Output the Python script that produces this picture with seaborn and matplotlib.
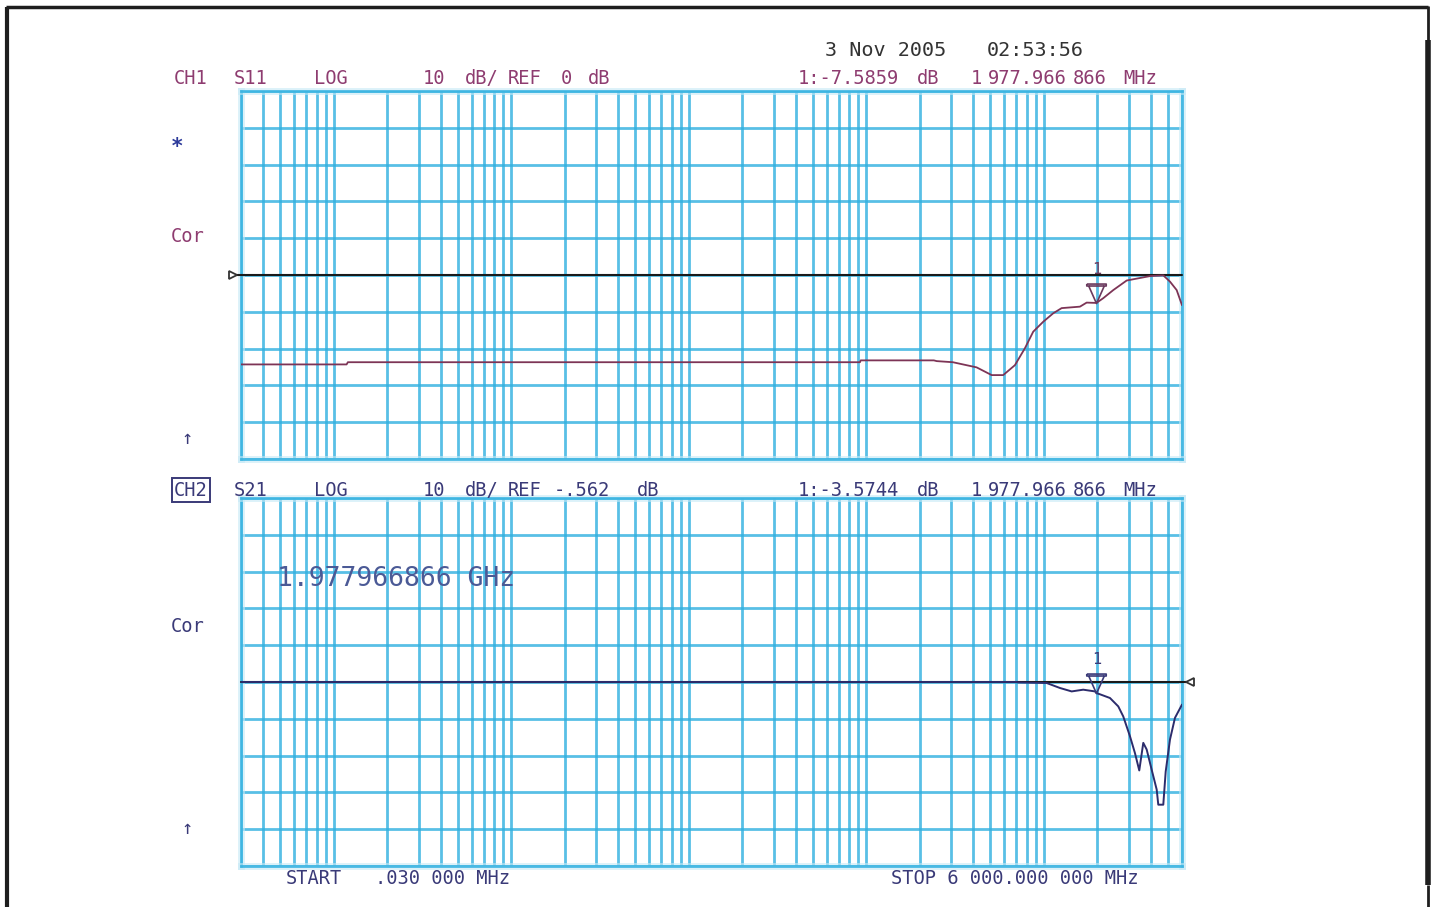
import numpy as np
import pandas as pd
import matplotlib
matplotlib.use("Agg")
import matplotlib.pyplot as plt
import matplotlib.ticker as mtick
import matplotlib.patheffects as pe
from matplotlib.lines import Line2D
from matplotlib.path import Path
import seaborn as sns

# ---------- data ----------
start_mhz = 0.03
stop_mhz = 6000.0
marker_mhz = 1977.966866

# CH1 S11 (dB), ref 0 dB, 10 dB/div
s11_freq = [0.03, 0.118, 0.12, 92, 93, 240, 249, 307, 418, 508, 590, 687, 782, 871, 992,
            1129, 1259, 1597, 1742, 1978, 2160, 2460, 2927, 3403, 3959, 4707, 5134, 5600, 6000]
s11_db = [-24.3, -24.3, -23.7, -23.7, -23.2, -23.2, -23.4, -23.7, -25.1, -27.2, -27.2, -24.5,
          -19.9, -15.4, -12.7, -10.4, -9.0, -8.6, -7.5, -7.59, -6.3, -4.1, -1.5, -0.9, -0.3,
          -0.1, -1.8, -4.1, -8.2]
s11_ref = 0.0
s11_marker_db = -7.5859

# CH2 S21 (dB), ref -0.562 dB, 10 dB/div
s21_freq = [0.03, 700, 717, 1036, 1232, 1434, 1666, 1940, 1978, 2070, 2357, 2625, 2800, 3055,
            3260, 3447, 3631, 3794, 4049, 4321, 4411, 4707, 4856, 5134, 5478, 6000]
s21_db = [-0.56, -0.56, -0.67, -0.83, -2.19, -3.12, -2.65, -3.12, -3.57, -3.9, -4.91, -7.19,
          -9.91, -15.3, -19.9, -24.6, -17.1, -18.9, -24.4, -29.8, -33.9, -33.9, -24.9, -16.2,
          -10.3, -6.7]
s21_ref = -0.562
s21_marker_db = -3.5744

s11 = pd.DataFrame({"freq": s11_freq, "db": s11_db})
s21 = pd.DataFrame({"freq": s21_freq, "db": s21_db})

# ---------- style ----------
sns.set_theme(style="white")
plt.rcParams["font.family"] = ["DejaVu Sans Mono", "DejaVu Sans"]

W, H = 1438, 907
fig = plt.figure(figsize=(W / 100, H / 100), dpi=100)
fig.patch.set_facecolor("white")

GRID = "#2fb0e0"
CH1_COL = "#8e3c70"
CH2_COL = "#3a3a78"
S11_COL = "#7d3456"
S21_COL = "#2c2c6c"


def px_axes(x0, y0, x1, y1):
    return fig.add_axes([x0 / W, 1 - y1 / H, (x1 - x0) / W, (y1 - y0) / H])


def ftext(px, py, s, **kw):
    kw.setdefault("va", "center")
    kw.setdefault("ha", "left")
    kw.setdefault("fontsize", 13.5)
    return fig.text(px / W, 1 - py / H, s, **kw)


glow = [pe.Stroke(linewidth=5.0, foreground="#c6e9f6", alpha=0.6), pe.Normal()]


def setup_grid(ax, ref):
    ax.set_xscale("log")
    ax.set_xlim(start_mhz, stop_mhz)
    ax.set_ylim(ref - 50, ref + 50)
    ax.set_yticks(ref + np.arange(-50, 51, 10))
    ax.xaxis.set_major_locator(mtick.LogLocator(base=10))
    ax.xaxis.set_minor_locator(mtick.LogLocator(base=10, subs=np.arange(2, 10)))
    ax.tick_params(which="both", length=0, labelbottom=False, labelleft=False)
    ax.grid(True, which="both", color=GRID, linewidth=2.0, alpha=0.8)
    for sp in ax.spines.values():
        sp.set_color(GRID)
        sp.set_alpha(0.85)
        sp.set_linewidth(2.0)
        sp.set_path_effects(glow)


# marker: bar on top, triangle pointing down, tip at the point
mk_path = Path([(-0.5, 1.0), (0.5, 1.0), (0.5, 0.9), (-0.5, 0.9), (-0.5, 1.0),
                (-0.4, 0.9), (0.0, 0.0), (0.4, 0.9)],
               [Path.MOVETO, Path.LINETO, Path.LINETO, Path.LINETO, Path.LINETO,
                Path.MOVETO, Path.LINETO, Path.LINETO])

# ---------- CH1 ----------
ax1 = px_axes(241, 91, 1182, 459)
setup_grid(ax1, s11_ref)
ax1.axhline(s11_ref, xmin=-0.01, xmax=1.0, color="#1a1a1a", lw=1.5, clip_on=False, zorder=3)
ax1.plot([-0.008], [s11_ref], transform=ax1.get_yaxis_transform(), marker=">",
         ms=6, mfc="white", mec="#333333", mew=1.3, clip_on=False, zorder=4)
sns.lineplot(data=s11, x="freq", y="db", ax=ax1, color=S11_COL, lw=1.3,
             estimator=None, sort=False, zorder=4)
ax1.plot([marker_mhz], [s11_marker_db], marker=mk_path, ms=28, mfc="none",
         mec="#6a3a5e", mew=1.2, zorder=5)
ax1.annotate("1", (marker_mhz, s11_marker_db), xytext=(0, 24), textcoords="offset points",
             ha="center", va="center", fontsize=11, color="#6a3a5e")
ax1.set_xlabel("")
ax1.set_ylabel("")

# ---------- CH2 ----------
ax2 = px_axes(241, 498, 1182, 866)
setup_grid(ax2, s21_ref)
ax2.axhline(s21_ref, xmin=0.0, xmax=1.009, color="#1a1a1a", lw=1.5, clip_on=False, zorder=3)
ax2.plot([1.009], [s21_ref], transform=ax2.get_yaxis_transform(), marker="<",
         ms=6, mfc="white", mec="#333333", mew=1.3, clip_on=False, zorder=4)
sns.lineplot(data=s21, x="freq", y="db", ax=ax2, color=S21_COL, lw=1.4,
             estimator=None, sort=False, zorder=4)
ax2.plot([marker_mhz], [s21_marker_db], marker=mk_path, ms=28, mfc="none",
         mec="#3a3a78", mew=1.2, zorder=5)
ax2.annotate("1", (marker_mhz, s21_marker_db), xytext=(0, 24), textcoords="offset points",
             ha="center", va="center", fontsize=11, color="#3a3a78")
ax2.set_xlabel("")
ax2.set_ylabel("")

# ---------- screen annotations ----------
ftext(825, 51, "3 Nov 2005", color="#333333", fontsize=14.5)
ftext(987, 51, "02:53:56", color="#333333", fontsize=14.5)

for x, s in [(174, "CH1"), (234, "S11"), (314, "LOG"), (423, "10"), (465, "dB/"),
             (508, "REF"), (561, "0"), (588, "dB"), (798, "1:-7.5859"), (917, "dB"),
             (971, "1"), (988, "977.966"), (1073, "866"), (1123, "MHz")]:
    ftext(x, 79, s, color=CH1_COL)

ftext(174, 490, "CH2", color=CH2_COL,
      bbox=dict(boxstyle="square,pad=0.12", fc="none", ec=CH2_COL, lw=1.4))
for x, s in [(234, "S21"), (314, "LOG"), (423, "10"), (465, "dB/"), (508, "REF"),
             (554, "-.562"), (637, "dB"), (798, "1:-3.5744"), (917, "dB"),
             (971, "1"), (988, "977.966"), (1073, "866"), (1123, "MHz")]:
    ftext(x, 490, s, color=CH2_COL)

ftext(277, 579, "1.977966866 GHz", fontsize=19, color="#4b5a96")

ftext(171, 147, "*", color="#2c3a9a", fontsize=15, fontweight="bold")
ftext(171, 236, "Cor", color=CH1_COL)
ftext(181, 438, "\u2191", color=CH2_COL)
ftext(171, 627, "Cor", color=CH2_COL)
ftext(181, 829, "\u2191", color=CH2_COL)

ftext(286, 878, "START", color=CH2_COL)
ftext(375, 878, ".030 000 MHz", color=CH2_COL)
ftext(891, 878, "STOP 6 000.000 000 MHz", color=CH2_COL)

# ---------- outer frame ----------
def fline(xs, ys, lw):
    fig.add_artist(Line2D([x / W for x in xs], [1 - y / H for y in ys],
                          color="#1e1e1e", lw=lw, solid_capstyle="butt"))


fline([6.5, 6.5], [7, 907], 3.0)
fline([6, 1428], [7, 7], 2.5)
fline([1428, 1428], [6, 40], 2.0)
fline([1428, 1428], [40, 885], 4.0)
fline([1428, 1428], [885, 907], 2.0)

fig.savefig("out.png", dpi=100, facecolor="white")
